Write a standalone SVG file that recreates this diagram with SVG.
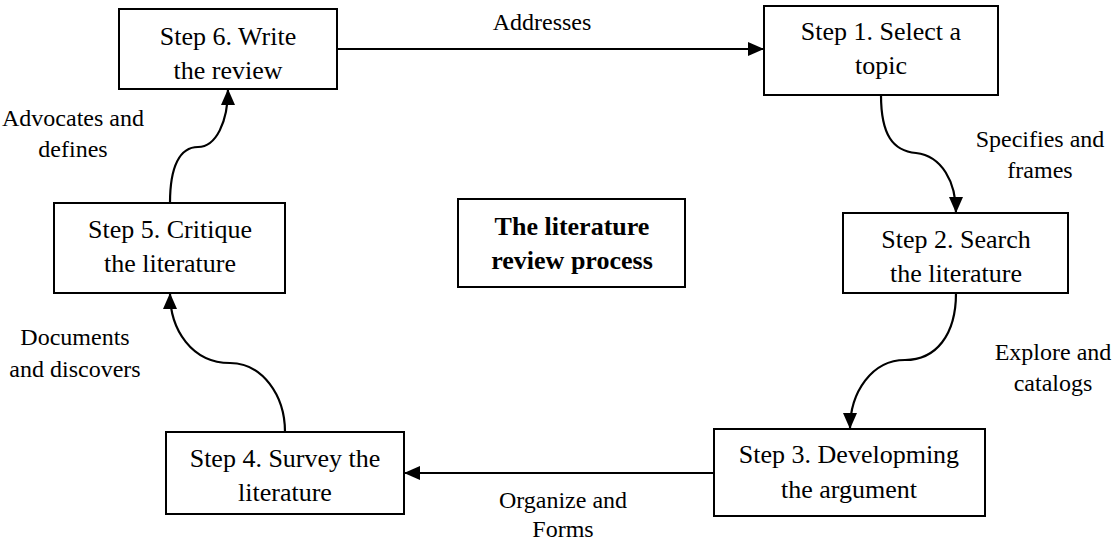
<svg xmlns="http://www.w3.org/2000/svg" width="1113" height="542" viewBox="0 0 1113 542">
  <defs>
    <marker id="arrow" markerUnits="userSpaceOnUse" markerWidth="16" markerHeight="14" refX="16" refY="7" orient="auto">
      <path d="M0,0 L16,7 L0,14 z" fill="#000"/>
    </marker>
    <style>
      text { font-family: 'Liberation Serif', 'Times New Roman', Times, 'DejaVu Serif', serif; fill: #000; text-anchor: middle; }
      .box { fill: #fff; stroke: #000; stroke-width: 2; }
      .step { font-size: 26px; }
      .title { font-size: 26px; font-weight: bold; }
      .label { font-size: 24px; }
      .edge { fill: none; stroke: #000; stroke-width: 2.2; marker-end: url(#arrow); }
    </style>
  </defs>
  <rect width="1113" height="542" fill="#fff"/>

  <!-- connectors -->
  <g id="connectors">
    <path class="edge" d="M337,49 L764,49"/>
    <path class="edge" d="M881,95 C881,135 893,151 916,153 C942,156 956,182 956,213"/>
    <path class="edge" d="M956,293 C956,335 936,360 905,360 C872,360 850,392 850,429"/>
    <path class="edge" d="M714,473 L404,473"/>
    <path class="edge" d="M285,432 C285,395 262,363 230,363 C192,363 170,330 170,293"/>
    <path class="edge" d="M170,203 C170,166 180,147 198,147 C216,147 228,122 228,89"/>
  </g>

  <!-- connector labels -->
  <g id="labels" font-family="Liberation Serif, Times New Roman, serif">
    <text class="label" x="542" y="30">Addresses</text>
    <text class="label" x="1040" y="147">Specifies and</text>
    <text class="label" x="1040" y="178">frames</text>
    <text class="label" x="1053" y="360">Explore and</text>
    <text class="label" x="1053" y="391">catalogs</text>
    <text class="label" x="563" y="508">Organize and</text>
    <text class="label" x="563" y="537">Forms</text>
    <text class="label" x="75" y="345">Documents</text>
    <text class="label" x="75" y="377">and discovers</text>
    <text class="label" x="73" y="126">Advocates and</text>
    <text class="label" x="73" y="157">defines</text>
  </g>

  <g id="step6">
    <rect class="box" x="119" y="9" width="218" height="80"/>
    <text class="step" x="228" y="45">Step 6. Write</text>
    <text class="step" x="228" y="79">the review</text>
  </g>
  <g id="step1">
    <rect class="box" x="764" y="6" width="234" height="89"/>
    <text class="step" x="881" y="40">Step 1. Select a</text>
    <text class="step" x="881" y="74">topic</text>
  </g>
  <g id="step2">
    <rect class="box" x="843" y="213" width="225" height="80"/>
    <text class="step" x="956" y="248">Step 2. Search</text>
    <text class="step" x="956" y="282">the literature</text>
  </g>
  <g id="step3">
    <rect class="box" x="714" y="429" width="271" height="87"/>
    <text class="step" x="849" y="463">Step 3. Developming</text>
    <text class="step" x="849" y="498">the argument</text>
  </g>
  <g id="step4">
    <rect class="box" x="166" y="432" width="238" height="82"/>
    <text class="step" x="285" y="467">Step 4. Survey the</text>
    <text class="step" x="285" y="501">literature</text>
  </g>
  <g id="step5">
    <rect class="box" x="54" y="203" width="231" height="90"/>
    <text class="step" x="170" y="238">Step 5. Critique</text>
    <text class="step" x="170" y="272">the literature</text>
  </g>
  <g id="center">
    <rect class="box" x="458" y="199" width="227" height="88"/>
    <text class="title" x="572" y="235">The literature</text>
    <text class="title" x="572" y="269">review process</text>
  </g>
</svg>
